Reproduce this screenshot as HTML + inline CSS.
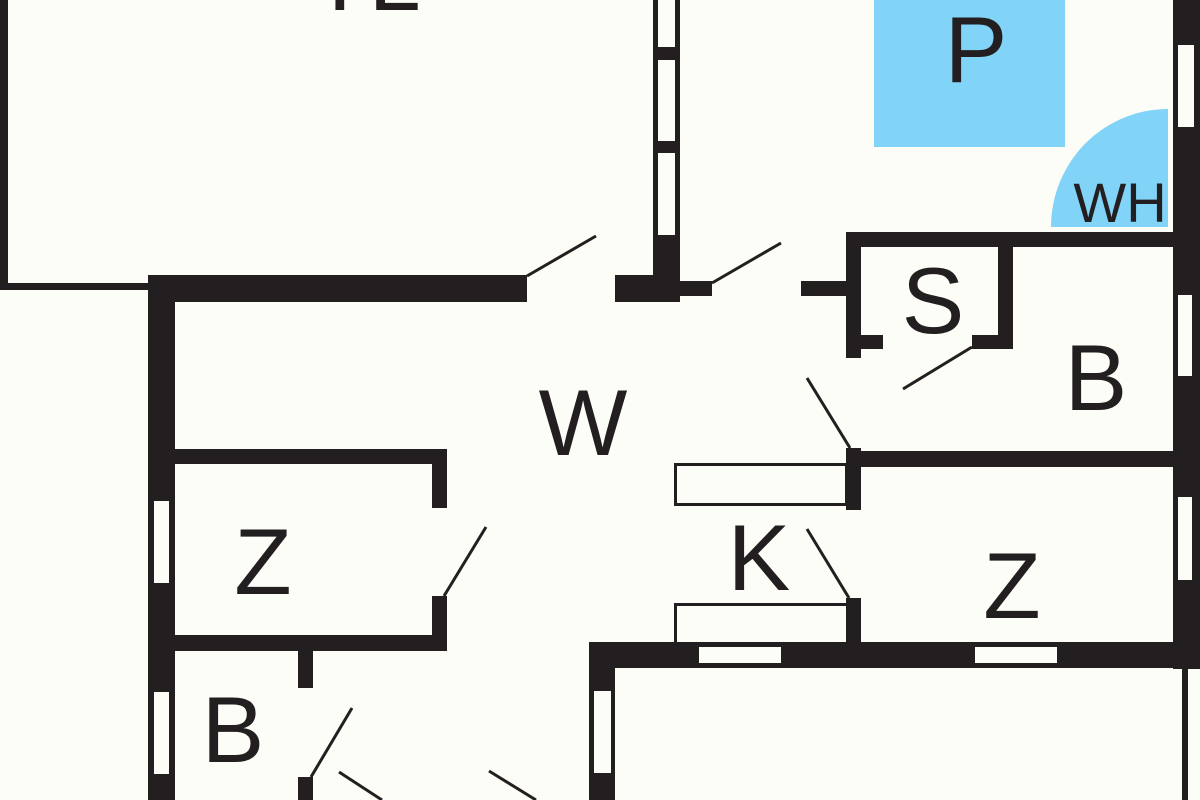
<!DOCTYPE html>
<html><head><meta charset="utf-8"><style>
html,body{margin:0;padding:0;background:#fdfdf8;}
svg{display:block}
text{font-family:"Liberation Sans",Arial,sans-serif;fill:#231f20;text-anchor:middle}
</style></head><body>
<svg width="1200" height="800" viewBox="0 0 1200 800" xmlns="http://www.w3.org/2000/svg">
<rect width="1200" height="800" fill="#fdfdf8"/>
<!-- blue fixtures -->
<rect x="874" y="0" width="191" height="147" fill="#81d4f7"/>
<path d="M1168 227 L1051 227 A117 118 0 0 1 1168 109 Z" fill="#81d4f7"/>
<g fill="#231f20">
<!-- top-left room -->
<rect x="0" y="0" width="8" height="290"/>
<rect x="0" y="283" width="150" height="7"/>
<rect x="148" y="275" width="379" height="27"/>
<rect x="615" y="275" width="65" height="27"/>
<rect x="653" y="0" width="27" height="302"/>
<!-- corridor wall to S -->
<rect x="680" y="281" width="32" height="15"/>
<rect x="801" y="281" width="50" height="15"/>
<!-- S room -->
<rect x="846" y="232" width="354" height="15"/>
<rect x="846" y="232" width="15" height="126"/>
<rect x="998" y="232" width="15" height="117"/>
<rect x="846" y="335" width="37" height="14"/>
<rect x="972" y="335" width="41" height="14"/>
<!-- right outer wall -->
<rect x="1173" y="0" width="27" height="669"/>
<rect x="1182" y="668" width="6" height="132"/>
<!-- B/Z divider -->
<rect x="846" y="451" width="330" height="16"/>
<rect x="846" y="448" width="15" height="62"/>
<rect x="846" y="598" width="15" height="48"/>
<!-- bottom wall -->
<rect x="590" y="642" width="610" height="26"/>
<rect x="589" y="642" width="26" height="158"/>
<!-- W left wall -->
<rect x="148" y="275" width="27" height="525"/>
<!-- Z left room -->
<rect x="148" y="449" width="299" height="15"/>
<rect x="432" y="449" width="15" height="59"/>
<rect x="432" y="596" width="15" height="55"/>
<rect x="148" y="635" width="299" height="16"/>
<!-- B left -->
<rect x="298" y="645" width="15" height="43"/>
<rect x="298" y="777" width="15" height="23"/>
</g>
<!-- windows -->
<g fill="#fdfdf8">
<rect x="658" y="0" width="17" height="47"/>
<rect x="658" y="60" width="17" height="81"/>
<rect x="658" y="153" width="17" height="82"/>
<rect x="1178" y="45" width="16" height="82"/>
<rect x="1178" y="295" width="14" height="81"/>
<rect x="1178" y="497" width="14" height="83"/>
<rect x="699" y="647" width="82" height="16"/>
<rect x="975" y="647" width="82" height="16"/>
<rect x="154" y="501" width="15" height="82"/>
<rect x="154" y="692" width="15" height="82"/>
<rect x="594" y="691" width="17" height="82"/>
</g>
<!-- counters -->
<g fill="none" stroke="#231f20" stroke-width="3">
<rect x="675.5" y="464.5" width="171" height="40"/>
<path d="M675.5 642 V604.5 H846"/>
</g>
<!-- door swings -->
<g stroke="#231f20" stroke-width="3" fill="none">
<line x1="527" y1="276" x2="596" y2="236"/>
<line x1="712" y1="283" x2="781" y2="243"/>
<line x1="972" y1="347" x2="903" y2="389"/>
<line x1="807" y1="378" x2="850" y2="448"/>
<line x1="807" y1="529" x2="849" y2="598"/>
<line x1="444" y1="596" x2="486" y2="527"/>
<line x1="311" y1="777" x2="352" y2="708"/>
<line x1="339" y1="772" x2="382" y2="800"/>
<line x1="489" y1="771" x2="536" y2="800"/>
</g>
<!-- labels -->
<g font-size="94">
<text x="366" y="10">TL</text>
<text x="583" y="455">W</text>
<text x="263" y="594">Z</text>
<text x="233" y="762">B</text>
<text x="759" y="590">K</text>
<text x="933" y="333">S</text>
<text x="1096" y="410">B</text>
<text x="1012" y="618">Z</text>
<text x="976" y="82">P</text>
</g>
<text x="1120" y="222" font-size="56">WH</text>
</svg>
</body></html>
